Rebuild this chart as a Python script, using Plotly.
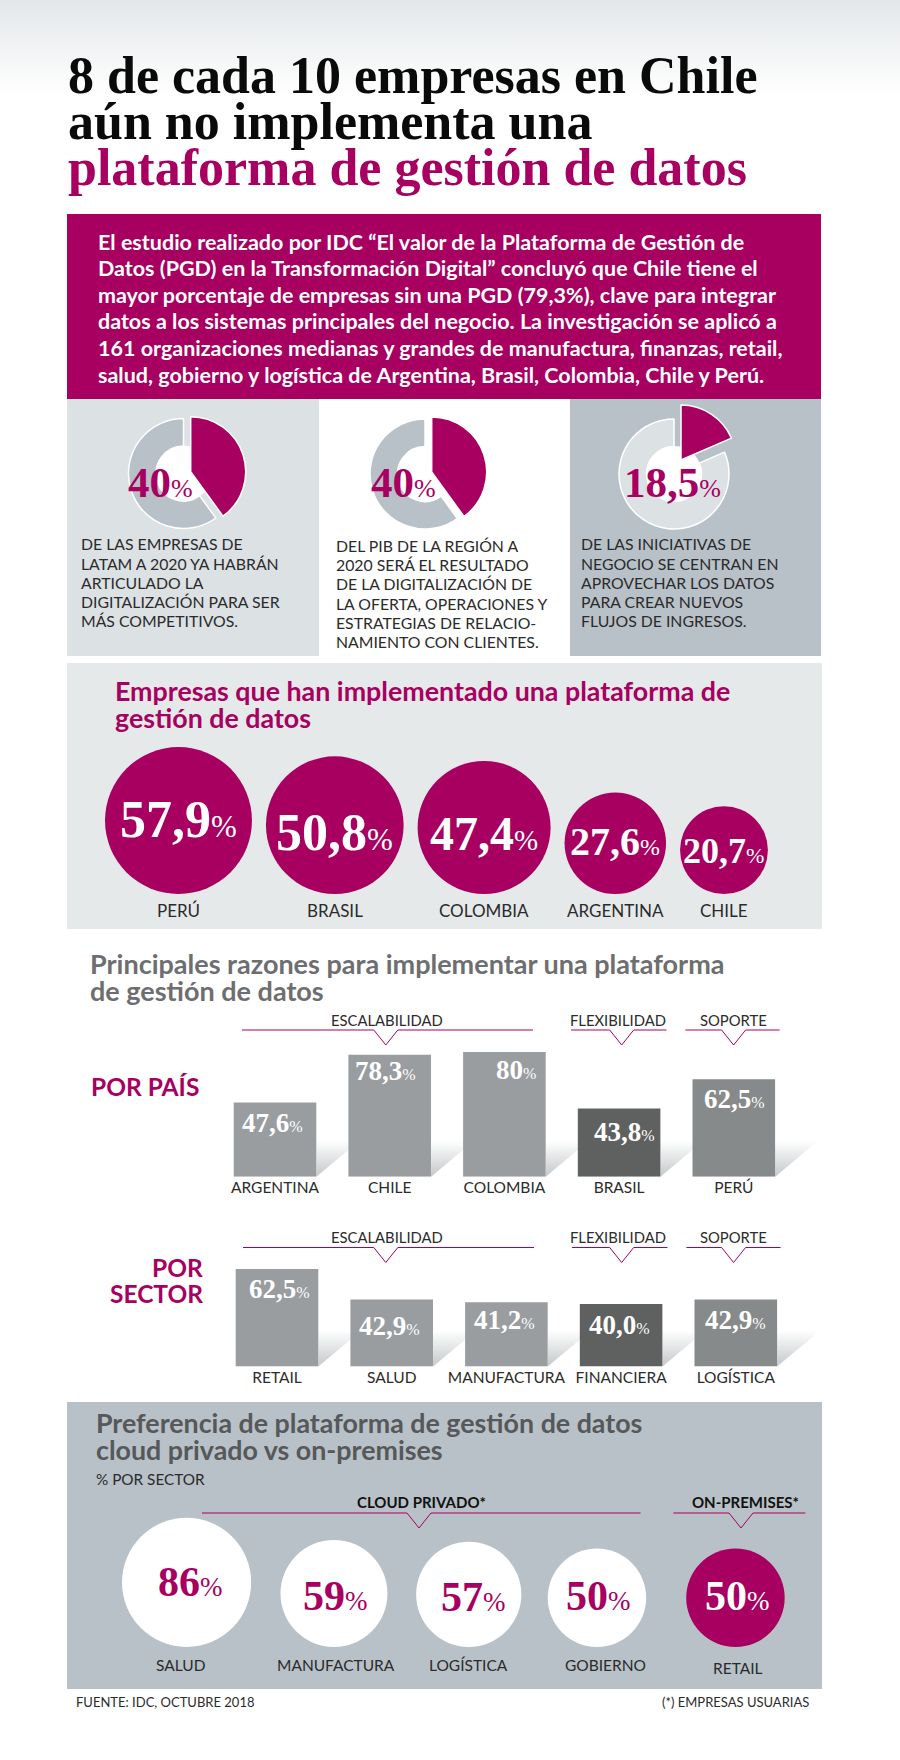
import plotly.graph_objects as go
import math

# Data
pie_values = [40, 40, 18.5]

country_names = ["PERÚ", "BRASIL", "COLOMBIA", "ARGENTINA", "CHILE"]
country_impl = [57.9, 50.8, 47.4, 27.6, 20.7]

reason_countries = ["ARGENTINA", "CHILE", "COLOMBIA", "BRASIL", "PERÚ"]
reason_country_vals = [47.6, 78.3, 80, 43.8, 62.5]
reason_sectors = ["RETAIL", "SALUD", "MANUFACTURA", "FINANCIERA", "LOGÍSTICA"]
reason_sector_vals = [62.5, 42.9, 41.2, 40.0, 42.9]

cloud_names = ["SALUD", "MANUFACTURA", "LOGÍSTICA", "GOBIERNO"]
cloud_vals = [86, 59, 57, 50]
onprem_names = ["RETAIL"]
onprem_vals = [50]

title_lines = ["8 de cada 10 empresas en Chile", "aún no implementa una", "plataforma de gestión de datos"]
intro_lines = [
    "El estudio realizado por IDC “El valor de la Plataforma de Gestión de",
    "Datos (PGD) en la Transformación Digital” concluyó que Chile tiene el",
    "mayor porcentaje de empresas sin una PGD (79,3%), clave para integrar",
    "datos a los sistemas principales del negocio. La investigación se aplicó a",
    "161 organizaciones medianas y grandes de manufactura, finanzas, retail,",
    "salud, gobierno y logística de Argentina, Brasil, Colombia, Chile y Perú.",
]
pie_notes = [
    ["DE LAS EMPRESAS DE", "LATAM A 2020 YA HABRÁN", "ARTICULADO LA", "DIGITALIZACIÓN PARA SER", "MÁS COMPETITIVOS."],
    ["DEL PIB DE LA REGIÓN A", "2020 SERÁ EL RESULTADO", "DE LA DIGITALIZACIÓN DE", "LA OFERTA, OPERACIONES Y",
     "ESTRATEGIAS DE RELACIO-", "NAMIENTO CON CLIENTES."],
    ["DE LAS INICIATIVAS DE", "NEGOCIO SE CENTRAN EN", "APROVECHAR LOS DATOS", "PARA CREAR NUEVOS", "FLUJOS DE INGRESOS."],
]

# Styles
W, H = 900, 1760
MAGENTA = "#A70060"
PANEL_LIGHT = "#DCE1E4"
PANEL_PALE = "#E6E9EA"
PANEL_MID = "#B8C1C7"
SERIF = "Liberation Serif"
NARROW = "Lato"
CLEAR = "rgba(0,0,0,0)"

fig = go.Figure()
anns = []
shapes = []


def txt(x, y, text, size, color="#2B2B2B", font=NARROW, anchor="left"):
    anns.append(dict(x=x, y=y, xref="x", yref="y", text=text, showarrow=False, xanchor=anchor, yanchor="middle",
                     font=dict(family=font, size=size, color=color)))


def pct(label, pct_size):
    return f"<b>{label}</b><span style='font-size:{pct_size}px'>%</span>"


def comma(v, fmt="g"):
    return format(v, fmt).replace(".", ",")


def rect(x0, y0, x1, y1, color):
    shapes.append(dict(type="rect", xref="x", yref="y", x0=x0, y0=y0, x1=x1, y1=y1, layer="below",
                       fillcolor=color, line_width=0))


def bracket(x0, x1, tip, y):
    path = f"M{x0},{y} L{tip - 12},{y} L{tip},{y + 15} L{tip + 12},{y} L{x1},{y}"
    shapes.append(dict(type="path", xref="x", yref="y", path=path, line=dict(color=MAGENTA, width=1)))


# Page blocks
fig.add_trace(go.Scatter(x=[0, W, W, 0, 0], y=[0, 0, 95, 95, 0], mode="none", fill="toself", hoverinfo="skip",
                         fillgradient=dict(type="vertical", colorscale=[[0, "#FFFFFF"], [1, "#E3E7E9"]])))
rect(67, 214, 821, 399, MAGENTA)
rect(67, 399, 319, 656, PANEL_LIGHT)
rect(570, 399, 821, 656, PANEL_MID)
rect(67, 663, 822, 929, PANEL_PALE)
rect(67, 1402, 822, 1689, PANEL_MID)

# Title and intro
title_y = [75, 121, 167]
for i, line in enumerate(title_lines):
    txt(66, title_y[i], f"<b>{line}</b>", 52, MAGENTA if i == 2 else "#0A0A0A", SERIF)
intro_y = [242, 268, 294.6, 321, 348, 374.6]
for line, y in zip(intro_lines, intro_y):
    txt(96, y, f"<b>{line}</b>", 21.5, "#FFFFFF")

# Pies: ring with the value taken out, and the value wedge pulled out of it
pie_ring_x = [183.5, 425, 674]
pie_wedge_x = [190.7, 431.7, 681]
pie_ring_y = [473.5, 474, 474]
pie_wedge_y = [471.7, 472, 460]
ring_colors = [PANEL_MID, PANEL_MID, PANEL_LIGHT]
pie_label_x = [160.7, 403.6, 672.8]
note_x = [79, 333.6, 578.6]
note_y = [
    [543.8, 563, 582, 601.9, 620.8],
    [545.5, 564.4, 583.8, 603, 622.5, 641.8],
    [543.8, 563, 582, 601.9, 620.8],
]
RING_R = 55


def pie_domain(cx, cy, r):
    return dict(x=[(cx - r) / W, (cx + r) / W], y=[1 - (cy + r) / H, 1 - (cy - r) / H])


for i, v in enumerate(pie_values):
    common = dict(values=[v, 100 - v], sort=False, direction="clockwise", rotation=0, textinfo="none",
                  hoverinfo="skip", showlegend=False)
    fig.add_trace(go.Pie(values=[1], marker=dict(colors=["#FFFFFF"]), textinfo="none", hoverinfo="skip",
                         showlegend=False, domain=pie_domain(pie_ring_x[i], pie_ring_y[i], 28)))
    fig.add_trace(go.Pie(hole=0.5, domain=pie_domain(pie_ring_x[i], pie_ring_y[i], RING_R),
                         marker=dict(colors=[CLEAR, ring_colors[i]], line=dict(color=[CLEAR, "#FFFFFF"], width=1.5)),
                         **common))
    fig.add_trace(go.Pie(domain=pie_domain(pie_wedge_x[i], pie_wedge_y[i], RING_R),
                         marker=dict(colors=[MAGENTA, CLEAR], line=dict(color=["#FFFFFF", CLEAR], width=1.5)),
                         **common))
    txt(pie_label_x[i], 482.3, pct(comma(v), 26), 43, MAGENTA, SERIF, "center")
    for line, y in zip(pie_notes[i], note_y[i]):
        txt(note_x[i], y, line, 15.8)

# Implementation bubbles: area follows the value, all standing on one line
txt(113, 691, "<b>Empresas que han implementado una plataforma de</b>", 26.8, MAGENTA)
txt(113, 718, "<b>gestión de datos</b>", 26.8, MAGENTA)
AREA_1 = 373
BUBBLE_GAP = 14
impl_d = [math.sqrt(AREA_1 * v) for v in country_impl]
impl_x = []
left = 105
for d in impl_d:
    impl_x.append(left + d / 2)
    left += d + BUBBLE_GAP
fig.add_trace(go.Scatter(x=impl_x, y=[894 - d / 2 for d in impl_d], mode="markers", hoverinfo="skip",
                         marker=dict(size=country_impl, sizemode="area", sizeref=2 / AREA_1, color=MAGENTA,
                                     opacity=1, line_width=0)))
impl_label_y = [819, 832, 833, 841, 850.7]
impl_font = [52, 52, 48, 40, 36]
for i, name in enumerate(country_names):
    txt(impl_x[i], impl_label_y[i], pct(comma(country_impl[i]), round(impl_font[i] * 0.6)), impl_font[i], "#FFFFFF",
        SERIF, "center")
    txt(impl_x[i], 910, name, 17, anchor="center")

# Reasons: two bar rows, each on its own axes
txt(88, 963.6, "<b>Principales razones para implementar una plataforma</b>", 27, "#6D6E70")
txt(88, 990, "<b>de gestión de datos</b>", 27, "#6D6E70")
txt(89, 1086.4, "<b>POR PAÍS</b>", 24.5, MAGENTA)
txt(205, 1267, "<b>POR</b>", 24.5, MAGENTA, anchor="right")
txt(205, 1293.6, "<b>SECTOR</b>", 24.5, MAGENTA, anchor="right")

BAR_PITCH = 114.7
BAR_WIDTH = 82.7
PX_PER_PCT = 1.56
bar_colors = ["#999DA0", "#999DA0", "#999DA0", "#5F6160", "#878A8A"]
row_first_center = [275, 277]
row_base = [1176.8, 1366.4]
row_bracket_y = [1030, 1247.5]
row_head_y = [1020.4, 1237]
row_names = [reason_countries, reason_sectors]
row_vals = [reason_country_vals, reason_sector_vals]
row_fmt = ["g", ".1f"]
row_label_x = [[272.7, 385, 515.5, 624, 734], [279, 389, 504.6, 619.4, 735]]
row_label_y = [[1123.2, 1071.4, 1069.6, 1132, 1099.3], [1288.6, 1325.7, 1320.4, 1325, 1320.4]]
axis_layout = {}
for r in range(2):
    ax_left = row_first_center[r] - BAR_PITCH / 2
    base = row_base[r]
    for i in range(5):
        xr = row_first_center[r] + i * BAR_PITCH + BAR_WIDTH / 2
        fig.add_trace(go.Scatter(x=[xr, xr + 43, xr, xr], y=[base, base - 36, base - 36, base], mode="none",
                                 fill="toself", hoverinfo="skip",
                                 fillgradient=dict(type="vertical", colorscale=[[0, "#C4C8CA"], [1, "#FFFFFF"]])))
    n = r + 2
    fig.add_trace(go.Bar(x=row_names[r], y=row_vals[r], xaxis=f"x{n}", yaxis=f"y{n}", marker_color=bar_colors,
                         marker_line_width=0, hoverinfo="skip"))
    axis_layout[f"xaxis{n}"] = dict(domain=[ax_left / W, (ax_left + 5 * BAR_PITCH) / W], anchor=f"y{n}",
                                    showgrid=False, zeroline=False, showline=False, ticks="",
                                    tickfont=dict(family=NARROW, size=15.5, color="#2B2B2B"),
                                    tickangle=0, automargin=False)
    axis_layout[f"yaxis{n}"] = dict(domain=[1 - base / H, 1 - (base - 100 * PX_PER_PCT) / H], anchor=f"x{n}",
                                    range=[0, 100], visible=False)
    for i, v in enumerate(row_vals[r]):
        txt(row_label_x[r][i], row_label_y[r][i], pct(comma(v, row_fmt[r]), 16), 27, "#FFFFFF", SERIF, "center")
    bracket(242 + r, 533 + r, 385.8, row_bracket_y[r])
    bracket(571 + r, 666.5 + r, 621.7, row_bracket_y[r])
    bracket(685.4 + r, 779.6 + r, 733.6, row_bracket_y[r])
    txt(387, row_head_y[r], "ESCALABILIDAD", 14.8, anchor="center")
    txt(618, row_head_y[r], "FLEXIBILIDAD", 14.8, anchor="center")
    txt(733, row_head_y[r], "SOPORTE", 14.8, anchor="center")

# Preference bubbles
txt(94, 1423, "<b>Preferencia de plataforma de gestión de datos</b>", 26.8, "#56585A")
txt(94, 1450, "<b>cloud privado vs on-premises</b>", 26.8, "#56585A")
txt(94, 1479, "% POR SECTOR", 15.3)
bracket(202, 640.6, 419, 1513)
bracket(673.4, 805.4, 741, 1513)
txt(421, 1502, "<b>CLOUD PRIVADO*</b>", 15, "#111111", anchor="center")
txt(745, 1502, "<b>ON-PREMISES*</b>", 15, "#111111", anchor="center")

AREA_2 = 194
pref_vals = cloud_vals + onprem_vals
pref_names = cloud_names + onprem_names
pref_d = [math.sqrt(AREA_2 * v) for v in pref_vals]
pref_gaps = [29.3, 28.7, 26.4, 40]
pref_x = []
left = 122
for i, d in enumerate(pref_d):
    pref_x.append(left + d / 2)
    if i < len(pref_gaps):
        left += d + pref_gaps[i]
pref_colors = ["#FFFFFF"] * len(cloud_vals) + [MAGENTA] * len(onprem_vals)
fig.add_trace(go.Scatter(x=pref_x, y=[1647 - d / 2 for d in pref_d], mode="markers", hoverinfo="skip",
                         marker=dict(size=pref_vals, sizemode="area", sizeref=2 / AREA_2, color=pref_colors,
                                     opacity=1, line_width=0)))
pref_label_x = [190, 335.8, 473.6, 598.7, 737.7]
pref_label_y = [1582, 1596, 1597, 1595.7, 1595.7]
pref_name_x = [181.4, 336.4, 468, 605.6, 738]
pref_name_y = [1665, 1665, 1665, 1665, 1668]
for i, name in enumerate(pref_names):
    color = "#FFFFFF" if i == len(pref_names) - 1 else MAGENTA
    txt(pref_label_x[i], pref_label_y[i], pct(comma(pref_vals[i]), 27), 42, color, SERIF, "center")
    txt(pref_name_x[i], pref_name_y[i], name, 15.5, anchor="center")

# Footer
txt(74, 1702, "FUENTE: IDC, OCTUBRE 2018", 13)
txt(811, 1702, "(*) EMPRESAS USUARIAS", 13, anchor="right")

fig.update_layout(
    width=W, height=H, autosize=False, margin=dict(l=0, r=0, t=0, b=0), showlegend=False,
    paper_bgcolor="#FFFFFF", plot_bgcolor=CLEAR, bargap=0.28,
    xaxis=dict(domain=[0, 1], range=[0, W], visible=False),
    yaxis=dict(domain=[0, 1], range=[H, 0], visible=False),
    annotations=anns, shapes=shapes, **axis_layout,
)

fig.write_html("out.html", config={"displayModeBar": False}, post_script="document.body.style.margin='0';")
